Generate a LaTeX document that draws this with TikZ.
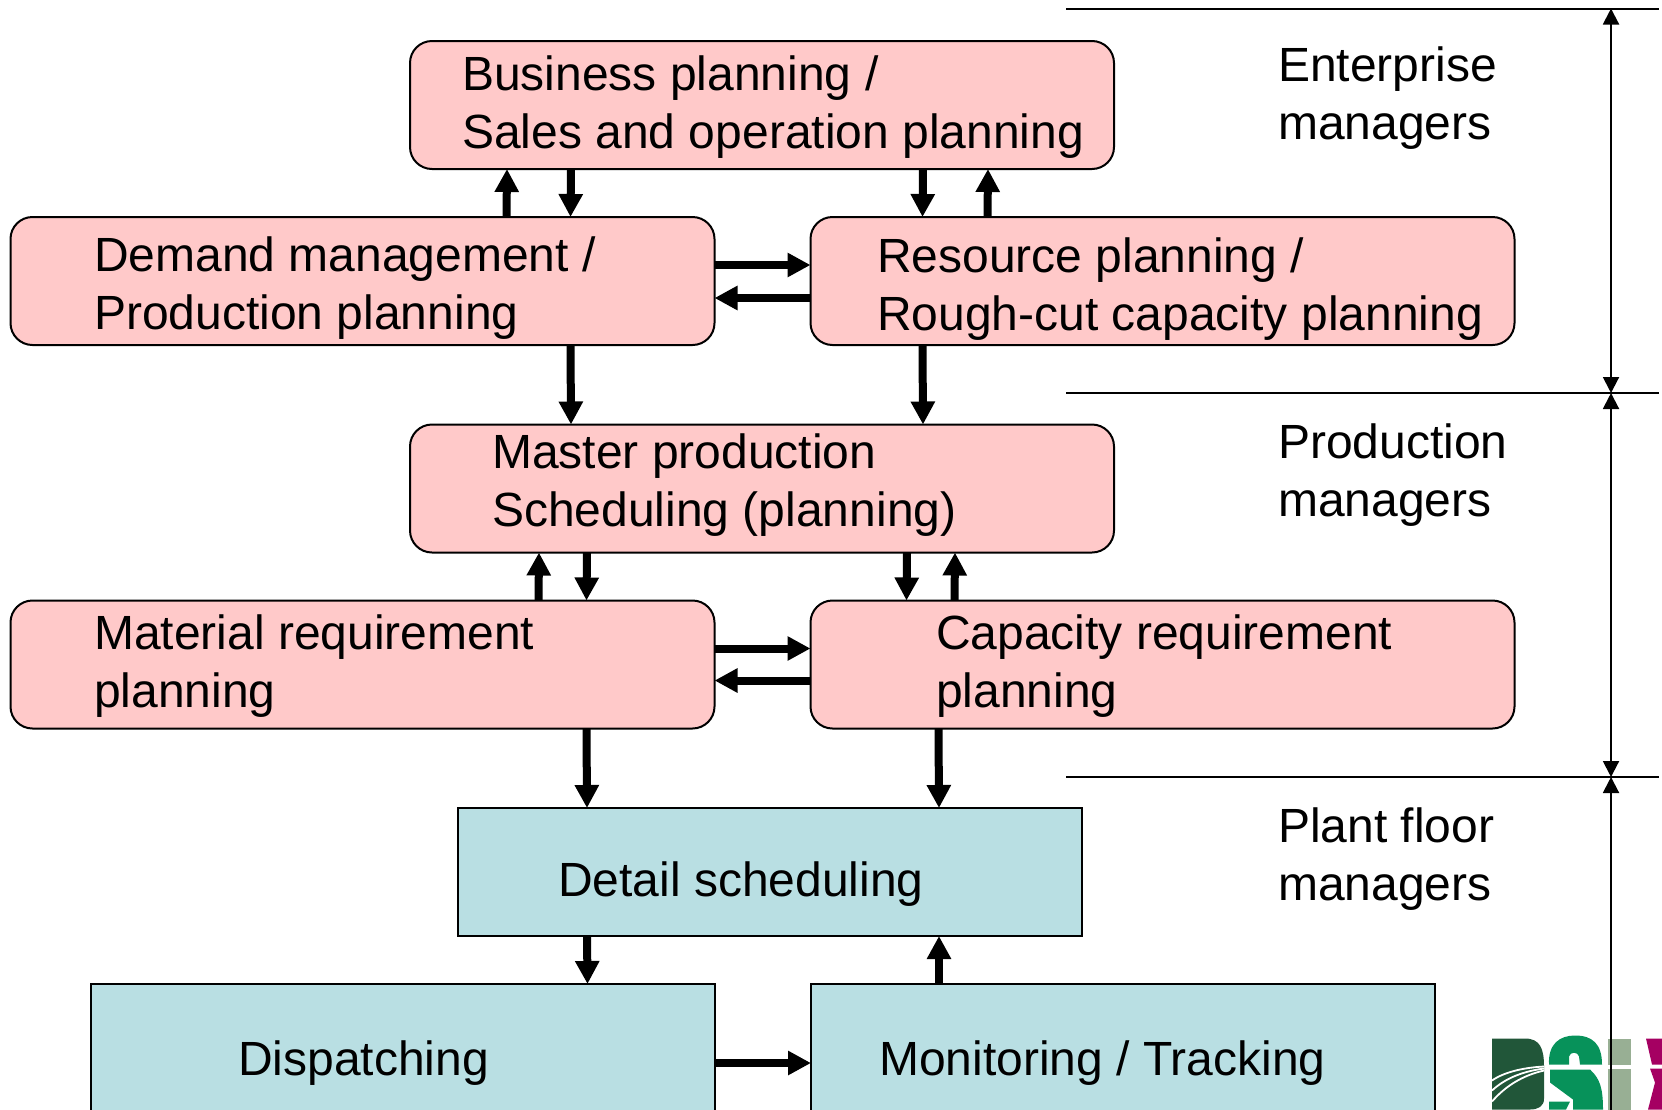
\documentclass[tikz,border=0pt]{standalone}
\usepackage{fontspec}
\setmainfont{Liberation Sans}
\usepackage{xcolor}
\usetikzlibrary{arrows.meta,positioning}
\definecolor{planpink}{HTML}{FFC9C9}
\definecolor{shopblue}{HTML}{B9DFE3}
\definecolor{logodark}{HTML}{215639}
\definecolor{logogreen}{HTML}{07925A}
\definecolor{logogrey}{HTML}{98AF94}
\definecolor{logored}{HTML}{A50062}
\tikzset{
  planbox/.style={draw,line width=2pt,outer sep=0pt,fill=planpink,rounded corners=22pt,minimum width=704pt,minimum height=128pt,inner sep=0pt},
  shopbox/.style={draw,line width=2pt,outer sep=0pt,fill=shopblue,minimum width=624pt,minimum height=128pt,inner sep=0pt},
  boxtext/.style={anchor=west,align=left,inner sep=0pt,font=\fontsize{48}{58}\selectfont},
  flow/.style={-{Triangle[length=23pt,width=23pt]},line width=8pt},
  rule/.style={line width=2pt},
  span/.style={line width=2pt},
  spanhead/.style={{Triangle[length=16pt,width=16pt]}-{Triangle[length=16pt,width=16pt]},line width=2pt}
}
\begin{document}
\begin{tikzpicture}[x=1pt,y=-1pt]
  \useasboundingbox (0,0) rectangle (1662,1109);
  \begin{scope}[yshift=1.5pt]
  \fill[logodark] (1492,1040) -- (1525,1040) .. controls (1540,1040) and (1544,1050) .. (1544,1068) -- (1544,1100) .. controls (1544,1108) and (1538,1111) .. (1530,1111) -- (1492,1111) -- cycle;
  \draw[white,line width=1.8pt] (1492,1082) .. controls (1505,1073) and (1525,1069) .. (1544,1068);
  \draw[white,line width=1.8pt] (1492,1092) .. controls (1505,1080) and (1522,1073) .. (1544,1070);
  \draw[white,line width=1.8pt] (1492,1103) .. controls (1505,1088) and (1522,1077) .. (1544,1072);
  \fill[logogreen] (1549,1066) .. controls (1548,1045) and (1560,1037) .. (1575,1037) .. controls (1592,1037) and (1602,1045) .. (1602,1066) -- (1580,1066) -- (1579,1058) .. controls (1578,1053) and (1570,1053) .. (1569,1058) -- (1569,1066) -- cycle;
  \fill[logogreen] (1550,1071) -- (1590,1071) .. controls (1600,1080) and (1603,1090) .. (1603,1111) -- (1573,1111) -- (1573,1101) -- (1550,1084) -- cycle;
  \fill[logogreen] (1549,1103) -- (1570,1103) -- (1566,1111) -- (1549,1111) -- cycle;
  \fill[logogrey] (1608,1040) rectangle (1631,1066);
  \fill[logogrey] (1608,1070) rectangle (1631,1111);
  \fill[logored] (1646,1040) -- (1662,1040) -- (1662,1066) -- (1652,1066) -- cycle;
  \fill[logored] (1650,1070) -- (1662,1070) -- (1662,1111) -- (1648,1111) -- (1655,1084) -- cycle;
  \end{scope}

  \node[planbox] (business) at (762,105) {};
  \node[planbox] (demand) at (362.5,281) {};
  \node[planbox] (resource) at (1162.5,281) {};
  \node[planbox] (master) at (762,488.5) {};
  \node[planbox] (material) at (362.5,664.5) {};
  \node[planbox] (capacity) at (1162.5,664.5) {};
  \node[shopbox] (detail) at (770,872) {};
  \node[shopbox,overlay] (dispatching) at (402.5,1048) {};
  \node[shopbox,overlay] (monitoring) at (1123,1048) {};

  \node[boxtext] (businesstext) at (462,107) {Business planning /\\Sales and operation planning};
  \node[boxtext] (demandtext) at (94,288) {Demand management /\\Production planning};
  \node[boxtext] (resourcetext) at (877,289.5) {Resource planning /\\Rough-cut capacity planning};
  \node[boxtext] (mastertext) at (492,485.5) {Master production\\Scheduling (planning)};
  \node[boxtext] (materialtext) at (94,666) {Material requirement\\planning};
  \node[boxtext] (capacitytext) at (936,666) {Capacity requirement\\planning};
  \node[boxtext] (detailtext) at (558,884) {Detail scheduling};
  \node[boxtext] (dispatchingtext) at (238,1063) {Dispatching};
  \node[boxtext] (monitoringtext) at (879,1063) {Monitoring / Tracking};
  \node[boxtext] (enterprise) at (1278,98) {Enterprise\\managers};
  \node[boxtext] (production) at (1278,475) {Production\\managers};
  \node[boxtext] (plantfloor) at (1278,859) {Plant floor\\managers};

  \draw[flow] ([xshift=496pt]demand.north west) -- ([xshift=97pt]business.south west);
  \draw[flow] ([xshift=161pt]business.south west) -- ([xshift=560pt]demand.north west);
  \draw[flow] ([xshift=513pt]business.south west) -- ([xshift=112pt]resource.north west);
  \draw[flow] ([xshift=177pt]resource.north west) -- ([xshift=578pt]business.south west);
  \draw[flow] ([yshift=-48pt]demand.north east) -- ([yshift=-48pt]resource.north west);
  \draw[flow] ([yshift=-81pt]resource.north west) -- ([yshift=-81pt]demand.north east);
  \draw[flow] ([xshift=560pt]demand.south west) -- ([xshift=161pt]master.north west);
  \draw[flow] ([xshift=112pt]resource.south west) -- ([xshift=513pt]master.north west);
  \draw[flow] ([xshift=528pt]material.north west) -- ([xshift=129pt]master.south west);
  \draw[flow] ([xshift=177pt]master.south west) -- ([xshift=576pt]material.north west);
  \draw[flow] ([xshift=497pt]master.south west) -- ([xshift=96pt]capacity.north west);
  \draw[flow] ([xshift=144pt]capacity.north west) -- ([xshift=545pt]master.south west);
  \draw[flow] ([yshift=-48pt]material.north east) -- ([yshift=-48pt]capacity.north west);
  \draw[flow] ([yshift=-80pt]capacity.north west) -- ([yshift=-80pt]material.north east);
  \draw[flow] ([xshift=576pt]material.south west) -- ([xshift=129pt]detail.north west);
  \draw[flow] ([xshift=128pt]capacity.south west) -- ([xshift=481pt]detail.north west);
  \draw[flow] ([xshift=129pt]detail.south west) -- ([xshift=497pt]dispatching.north west);
  \draw[flow] ([xshift=128pt]monitoring.north west) -- ([xshift=481pt]detail.south west);
  \draw[flow] ([yshift=-79pt]dispatching.north east) -- ([yshift=-79pt]monitoring.north west);

  \coordinate (ruleatop) at (1066,8.5);
  \coordinate (rulebtop) at (1659,8.5);
  \coordinate (ruleamid) at (1066,393);
  \coordinate (rulebmid) at (1659,393);
  \coordinate (ruleaplant) at (1066,777);
  \coordinate (rulebplant) at (1659,777);
  \coordinate (spantop) at (1611,8.5);
  \coordinate (spanmid) at (1611,393);
  \coordinate (spanplant) at (1611,777);
  \coordinate (spanend) at (1611,1111);
  \draw[rule] (ruleatop) -- (rulebtop);
  \draw[rule] (ruleamid) -- (rulebmid);
  \draw[rule] (ruleaplant) -- (rulebplant);
  \draw[spanhead] (spantop) -- (spanmid);
  \draw[spanhead] (spanmid) -- (spanplant);
  \draw[span,{Triangle[length=16pt,width=16pt]}-] (spanplant) -- (spanend);
\end{tikzpicture}
\end{document}
